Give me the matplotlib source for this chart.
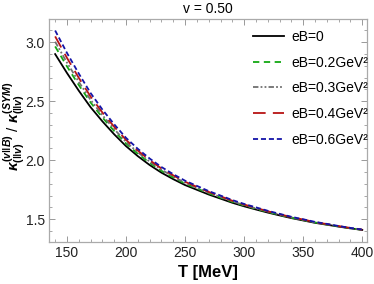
import matplotlib
matplotlib.use("Agg")
import matplotlib.pyplot as plt
from matplotlib.ticker import MultipleLocator, FormatStrFormatter

plt.rcParams['font.family'] = ['Liberation Sans', 'DejaVu Sans']
plt.rcParams['mathtext.fontset'] = 'custom'
plt.rcParams['mathtext.it'] = 'Liberation Sans:italic:bold'
plt.rcParams['mathtext.rm'] = 'Liberation Sans:bold'
plt.rcParams['mathtext.bf'] = 'Liberation Sans:bold'

T = [140, 150, 160, 170, 180, 190, 200, 210, 220, 230, 240, 250, 260, 270,
     280, 290, 300, 310, 320, 330, 340, 350, 360, 370, 380, 390, 400]
k_eB0 = [2.90, 2.74, 2.59, 2.45, 2.33, 2.22, 2.12, 2.035, 1.96, 1.895, 1.84, 1.79, 1.75, 1.71,
         1.675, 1.64, 1.61, 1.583, 1.557, 1.533, 1.51, 1.49, 1.47, 1.454, 1.438, 1.423, 1.41]
k_eB02 = [2.965, 2.796, 2.638, 2.49, 2.363, 2.248, 2.143, 2.055, 1.978, 1.911, 1.854, 1.802, 1.761, 1.72,
          1.684, 1.648, 1.617, 1.589, 1.562, 1.537, 1.514, 1.493, 1.473, 1.456, 1.44, 1.424, 1.411]
k_eB03 = [3.005, 2.828, 2.665, 2.512, 2.382, 2.264, 2.156, 2.067, 1.989, 1.92, 1.862, 1.809, 1.767, 1.725,
          1.689, 1.652, 1.62, 1.592, 1.565, 1.54, 1.516, 1.495, 1.474, 1.458, 1.441, 1.425, 1.412]
k_eB04 = [3.05, 2.868, 2.699, 2.54, 2.405, 2.284, 2.173, 2.082, 2.001, 1.931, 1.872, 1.818, 1.775, 1.732,
          1.695, 1.657, 1.625, 1.597, 1.568, 1.543, 1.518, 1.498, 1.476, 1.459, 1.442, 1.426, 1.412]
k_eB06 = [3.10, 2.91, 2.735, 2.57, 2.43, 2.305, 2.19, 2.097, 2.015, 1.943, 1.882, 1.827, 1.783, 1.739,
          1.701, 1.663, 1.63, 1.601, 1.572, 1.546, 1.521, 1.50, 1.478, 1.461, 1.443, 1.427, 1.413]

labels = ['eB=0', 'eB=0.2GeV²', 'eB=0.3GeV²', 'eB=0.4GeV²', 'eB=0.6GeV²']
title = 'v = 0.50'
xlabel = 'T [MeV]'
ylabel = r'$\kappa^{(v\Vert B)}_{(\Vert v)}$ / $\kappa^{(SYM)}_{(\Vert v)}$'

fig = plt.figure(figsize=(3.74, 2.84), dpi=100)
ax = fig.add_axes([49/374, 1-242.3/284, (367-49)/374, (242.3-18.7)/284])

series = [k_eB0, k_eB02, k_eB03, k_eB04, k_eB06]
colors = ['black', '#13a813', '#707070', '#b81414', '#1414a8']
styles = ['-', (0, (3.5, 2.5)), (0, (3, 1.2, 1, 1.2, 1, 1.2)), (0, (7, 4)), (0, (2.8, 1.6))]
for y, c, ls, lab in zip(series, colors, styles, labels):
    ax.plot(T, y, color=c, linestyle=ls, linewidth=1.3, label=lab)

ax.set_xlim(134.8, 404)
ax.set_ylim(1.305, 3.2)
ax.xaxis.set_major_locator(MultipleLocator(50))
ax.xaxis.set_minor_locator(MultipleLocator(10))
ax.yaxis.set_major_locator(MultipleLocator(0.5))
ax.yaxis.set_minor_locator(MultipleLocator(0.1))
ax.yaxis.set_major_formatter(FormatStrFormatter('%.1f'))
ax.tick_params(which='both', direction='in', top=True, right=True, color='#999999',
               labelsize=10, labelcolor='#222222', pad=3)
ax.tick_params(which='major', length=4, width=0.7)
ax.tick_params(which='minor', length=2.2, width=0.6)
for s in ax.spines.values():
    s.set_color('#aaaaaa')
    s.set_linewidth(0.9)

ax.set_title(title, fontsize=10, pad=4)
ax.set_xlabel(xlabel, fontsize=12, fontweight='bold', labelpad=3)
ax.set_ylabel(ylabel, fontsize=11)
ax.yaxis.set_label_coords(-0.07, 0.52)

leg = ax.legend(loc='upper left', bbox_to_anchor=(246/374, 1-23/284), bbox_transform=fig.transFigure,
                frameon=False, fontsize=10, handlelength=2.2, handletextpad=0.6,
                labelspacing=0.84, borderpad=0)

fig.savefig('out.png', dpi=100)
